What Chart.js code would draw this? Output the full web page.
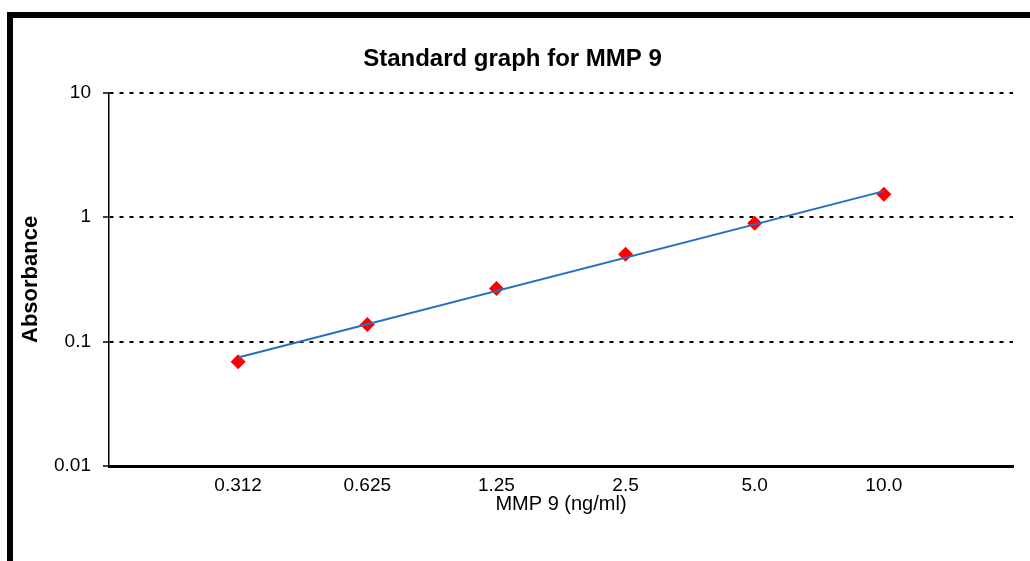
<!DOCTYPE html>
<html>
<head>
<meta charset="utf-8">
<title>Standard graph for MMP 9</title>
<script src="https://cdn.jsdelivr.net/npm/chart.js@4/dist/chart.umd.min.js"></script>
<style>
  html, body { margin: 0; padding: 0; background: #fff; }
  #wrap { position: relative; width: 1030px; height: 561px; overflow: hidden; }
  /* black frame on top and left, like the original figure */
  #frame {
    position: absolute; left: 7px; top: 12px; right: -10px; bottom: -10px;
    border-top: 6px solid #000; border-left: 6px solid #000;
  }
  #chart { position: absolute; left: 0; top: 0; }
</style>
</head>
<body>
<div id="wrap">
  <div id="frame"></div>
  <canvas id="chart" width="1030" height="561"></canvas>
</div>
<script>
// Konsentrasi standar (label sumbu x)
const concLabels = ['0.312', '0.625', '1.25', '2.5', '5.0', '10.0'];
// Absorbansi yang terukur
const absorbance = [0.069, 0.137, 0.267, 0.503, 0.895, 1.53];
// Garis tren (awal dan akhir)
const trendX = [1, 6];
const trendY = [0.0745, 1.62];
// Tick sumbu y
const yTicks = [0.01, 0.1, 1, 10];

const font = "'Liberation Sans', Arial, sans-serif";

const data = {
    datasets: [
        {
            label: 'Trend',
            data: trendX.map((x, i) => ({ x: x, y: trendY[i] })),
            showLine: true,
            borderColor: '#2470c0',
            borderWidth: 2,
            pointRadius: 0,
            fill: false
        },
        {
            label: 'Absorbance',
            data: absorbance.map((v, i) => ({ x: i + 1, y: v })),
            showLine: false,
            pointStyle: 'rectRot',
            pointRadius: 7.5,
            backgroundColor: '#ff0000',
            borderColor: '#ff0000',
            borderWidth: 0
        }
    ]
};

const config = {
    type: 'scatter',
    data: data,
    options: {
        responsive: false,
        animation: false,
        layout: { padding: { left: 12, right: 17, top: 20, bottom: 45 } },
        plugins: {
            legend: { display: false },
            tooltip: { enabled: false },
            title: {
                display: true,
                text: 'Standard graph for MMP 9',
                color: '#000',
                font: { family: font, size: 24, weight: 'bold' },
                padding: { top: 25, bottom: 19 }
            }
        },
        scales: {
            x: {
                type: 'linear',
                min: 0,
                max: 7,
                afterBuildTicks: (scale) => {
                    scale.ticks = concLabels.map((_, i) => ({ value: i + 1 }));
                },
                afterFit: (scale) => { scale.height = 50; },
                ticks: {
                    autoSkip: false,
                    maxRotation: 0,
                    padding: 8,
                    color: '#000',
                    font: { family: font, size: 19 },
                    callback: (v) => concLabels[v - 1] || ''
                },
                grid: { display: false, drawTicks: false },
                border: { display: true, color: '#000', width: 3 },
                title: {
                    display: true,
                    text: 'MMP 9 (ng/ml)',
                    color: '#000',
                    font: { family: font, size: 20 },
                    padding: 0
                }
            },
            y: {
                type: 'logarithmic',
                min: 0.01,
                max: 10,
                afterBuildTicks: (scale) => {
                    scale.ticks = yTicks.map(v => ({ value: v }));
                },
                afterFit: (scale) => { scale.width = 97; },
                ticks: {
                    padding: 12,
                    color: '#000',
                    font: { family: font, size: 19 },
                    callback: (v) => String(v)
                },
                grid: {
                    color: '#000',
                    lineWidth: 2,
                    tickLength: 6,
                    tickBorderDash: [],
                    tickWidth: 1.5,
                    tickColor: '#000'
                },
                border: { display: true, color: '#000', width: 1.5, dash: [4, 6] },
                title: {
                    display: true,
                    text: 'Absorbance',
                    color: '#000',
                    font: { family: font, size: 22, weight: 'bold' },
                    padding: { top: 6, bottom: 0 }
                }
            }
        }
    }
};

const ctx = document.getElementById('chart').getContext('2d');
new Chart(ctx, config);
</script>
</body>
</html>
